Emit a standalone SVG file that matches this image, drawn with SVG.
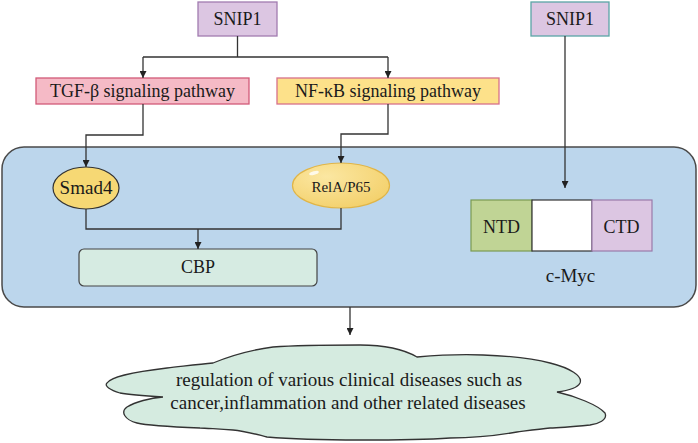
<svg xmlns="http://www.w3.org/2000/svg" width="698" height="443" viewBox="0 0 698 443" font-family="'Liberation Serif', 'Times New Roman', serif">
<defs>
<marker id="arr" viewBox="0 0 10 10" refX="10" refY="5" markerWidth="7" markerHeight="7" markerUnits="userSpaceOnUse" orient="auto">
<path d="M0,0 L10,5 L0,10 Z" fill="#222"/>
</marker>
<radialGradient id="gloss" cx="0.35" cy="0.3" r="0.8">
<stop offset="0" stop-color="#fbe7a2"/>
<stop offset="1" stop-color="#f3cf68"/>
</radialGradient>
</defs>
<style>
text{font-family:"Liberation Serif","Times New Roman",serif;fill:#1a1a1a;text-anchor:middle}
.t18{font-size:18px}
.conn{fill:none;stroke:#333;stroke-width:1.3}
.arrow{marker-end:url(#arr)}
</style>
<rect x="0" y="0" width="698" height="443" fill="#fff"/>

<g id="cell">
<rect x="2" y="147" width="694" height="160" rx="22" fill="#bcd6ec" stroke="#4a4a4a" stroke-width="1.5"/>
</g>

<g id="snip1-left">
<rect x="198" y="2" width="79" height="34" fill="#dcc6e2" stroke="#a17cb0" stroke-width="1.3"/>
<text x="237.5" y="25" class="t18">SNIP1</text>
</g>
<g id="snip1-right">
<rect x="531" y="2" width="78" height="34" fill="#dcc6e2" stroke="#5aa5a6" stroke-width="1.3"/>
<text x="570" y="25" class="t18">SNIP1</text>
</g>
<g id="tgf">
<rect x="36" y="78" width="213" height="26" fill="#f5bac6" stroke="#d25a78" stroke-width="1.3"/>
<text x="142.5" y="97" class="t18">TGF-β signaling pathway</text>
</g>
<g id="nfkb">
<rect x="277" y="78" width="222" height="26" fill="#fde18a" stroke="#d8708a" stroke-width="1.3"/>
<text x="388" y="97" class="t18">NF-κB signaling pathway</text>
</g>
<g id="smad4">
<ellipse cx="86" cy="188" rx="33" ry="21" fill="#f6d874" stroke="#333" stroke-width="1.2"/>
<text x="86" y="194" style="font-size:19px">Smad4</text>
</g>
<g id="rela">
<ellipse cx="341" cy="185.5" rx="48.5" ry="22.5" fill="url(#gloss)" stroke="#e0b548" stroke-width="1.2"/>
<ellipse cx="314" cy="173" rx="5" ry="1.8" fill="#fff" opacity="0.8" transform="rotate(-15 314 173)"/>
<text x="341" y="191.5" style="font-size:15px">RelA/P65</text>
</g>
<g id="cbp">
<rect x="79" y="249" width="238" height="37" rx="5" fill="#d6ebe2" stroke="#444" stroke-width="1.2"/>
<text x="198" y="273" class="t18">CBP</text>
</g>
<g id="cmyc">
<rect x="471" y="200" width="61" height="51" fill="#c0d495" stroke="#7a9a52" stroke-width="1.2"/>
<rect x="532" y="200" width="60" height="51" fill="#fff" stroke="#333" stroke-width="1.2"/>
<rect x="592" y="200" width="60" height="51" fill="#dcc6e2" stroke="#9a7aaa" stroke-width="1.2"/>
<text x="501.5" y="232.5" class="t18">NTD</text>
<text x="621.5" y="232.5" class="t18">CTD</text>
<text x="570.5" y="281.5" style="font-size:19px">c-Myc</text>
</g>
<g id="outcome">
<path d="M213,363 C230,356 250,350 273,347 C300,345 330,345 360,345 C385,345 405,350 417,357 C440,355 460,354 483,355 C510,356 535,359 550,363 C570,368 583,376 580,383 C577,389 565,391 557,392 C575,396 598,405 605,413 C608,420 598,424 590,425 C570,427 555,428 550,428 C540,429 525,431 517,432 C495,436 470,438 450,438 C420,440 385,440 360,440 C320,440 290,439 267,437 C255,434 245,431 233,430 C215,429 205,428 200,428 C175,427 145,425 137,423 C125,420 120,412 127,407 C135,402 150,398 163,397 C145,396 125,394 120,393 C110,390 104,386 107,383 C110,378 125,373 167,368 C185,366 200,364 213,363 Z" fill="#d5ebe0" stroke="#333" stroke-width="1.3"/>
<text x="349" y="386" style="font-size:19px">regulation of various clinical diseases such as</text>
<text x="348" y="408.5" style="font-size:19px">cancer,inflammation and other related diseases</text>
</g>

<g id="connectors">
<path class="conn" d="M237.5,36 V57 M143,57 H388"/>
<path class="conn arrow" d="M143,57 V78"/>
<path class="conn arrow" d="M388,57 V78"/>
<path class="conn arrow" d="M143,104 V135 H86 V167"/>
<path class="conn arrow" d="M388,104 V134 H341 V163"/>
<path class="conn arrow" d="M565,36 V188"/>
<path class="conn" d="M86,209 V229 H341 V208"/>
<path class="conn arrow" d="M198,229 V249"/>
<path class="conn arrow" d="M350,307 V335"/>
</g>
</svg>
